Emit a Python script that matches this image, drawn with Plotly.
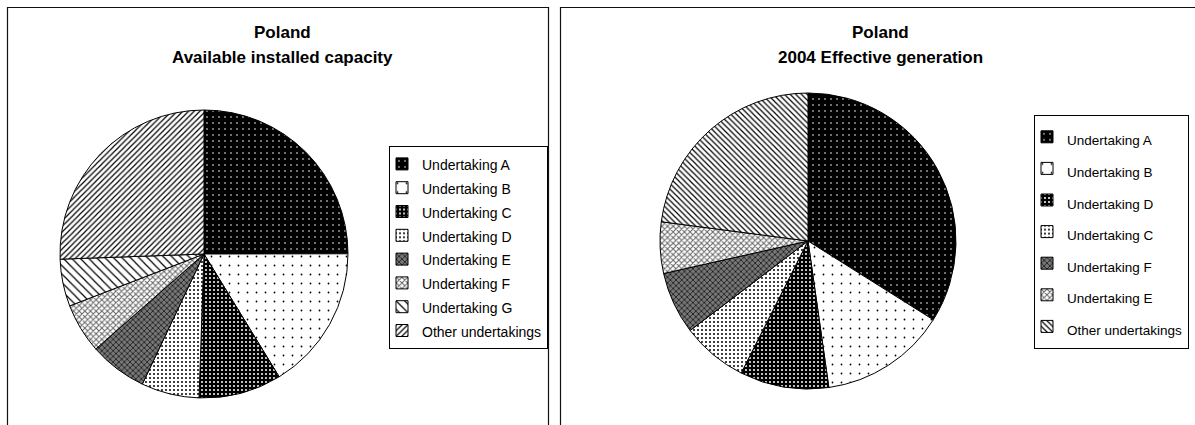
import plotly.graph_objects as go

W, H = 1195, 425

# Left chart: Available installed capacity (shares, %)
cap_labels = ["Undertaking A", "Undertaking B", "Undertaking C", "Undertaking D",
              "Undertaking E", "Undertaking F", "Undertaking G", "Other undertakings"]
cap_values = [25.0, 16.3, 9.3, 6.5, 6.5, 5.6, 5.3, 25.6]

# Right chart: 2004 Effective generation (shares, %)
gen_labels = ["Undertaking A", "Undertaking B", "Undertaking D", "Undertaking C",
              "Undertaking F", "Undertaking E", "Other undertakings"]
gen_values = [33.9, 13.8, 9.7, 7.2, 6.8, 5.6, 22.9]

titles_left = ["Poland", "Available installed capacity"]
titles_right = ["Poland", "2004 Effective generation"]

# fill patterns, in slice order
P_DOT_DARK = dict(shape=".", bgcolor="#000000", fgcolor="#ffffff", size=6, solidity=0.06)
P_DOT_LIGHT = dict(shape=".", bgcolor="#ffffff", fgcolor="#000000", size=9, solidity=0.03)
P_DENSE_DARK = dict(shape=".", bgcolor="#000000", fgcolor="#ffffff", size=4, solidity=0.2)
P_DENSE_LIGHT = dict(shape=".", bgcolor="#ffffff", fgcolor="#000000", size=4, solidity=0.2)
P_X_DARK = dict(shape="x", bgcolor="#777777", fgcolor="#000000", size=4, solidity=0.3)
P_X_LIGHT = dict(shape="x", bgcolor="#ffffff", fgcolor="#666666", size=4, solidity=0.45)
P_BACK_WIDE = dict(shape="\\", bgcolor="#ffffff", fgcolor="#000000", size=6, solidity=0.2)
P_FWD_DENSE = dict(shape="/", bgcolor="#ffffff", fgcolor="#000000", size=4, solidity=0.3)
P_BACK_DENSE = dict(shape="\\", bgcolor="#ffffff", fgcolor="#000000", size=4, solidity=0.3)

left_patterns = [P_DOT_DARK, P_DOT_LIGHT, P_DENSE_DARK, P_DENSE_LIGHT,
                 P_X_DARK, P_X_LIGHT, P_BACK_WIDE, P_FWD_DENSE]
right_patterns = [P_DOT_DARK, P_DOT_LIGHT, P_DENSE_DARK, P_DENSE_LIGHT,
                  P_X_DARK, P_X_LIGHT, P_BACK_DENSE]


def pattern(pats):
    return dict(shape=[p["shape"] for p in pats], bgcolor=[p["bgcolor"] for p in pats],
                fgcolor=[p["fgcolor"] for p in pats], size=[p["size"] for p in pats],
                solidity=[p["solidity"] for p in pats], fillmode="replace")


def px_x(v):
    return v / W


def px_y(v):
    return 1 - v / H


def legend_text(labels, fs):
    return ['<span style="font-size:%spx">%s</span>' % (fs, l) for l in labels]


FONT = "Liberation Sans, Arial, sans-serif"

fig = go.Figure()

# left pie: center (204, 254), r 144
fig.add_trace(go.Pie(
    labels=legend_text(cap_labels, 14), values=cap_values, sort=False, direction="clockwise",
    rotation=0, textinfo="none", hoverinfo="label+percent",
    marker=dict(colors=[p["bgcolor"] for p in left_patterns],
                line=dict(color="#000000", width=1),
                pattern=pattern(left_patterns)),
    domain=dict(x=[px_x(60), px_x(348)], y=[px_y(398), px_y(110)]),
    legend="legend", legendgroup="cap",
))

# right pie: center (808, 241), r 148
fig.add_trace(go.Pie(
    labels=legend_text(gen_labels, 13.5), values=gen_values, sort=False, direction="clockwise",
    rotation=0, textinfo="none", hoverinfo="label+percent",
    marker=dict(colors=[p["bgcolor"] for p in right_patterns],
                line=dict(color="#000000", width=1),
                pattern=pattern(right_patterns)),
    domain=dict(x=[px_x(660), px_x(956)], y=[px_y(389), px_y(93)]),
    legend="legend2", legendgroup="gen",
))


def title_ann(text, x, y):
    return dict(text="<b>%s</b>" % text, x=px_x(x), y=px_y(y), xref="paper", yref="paper",
                xanchor="center", yanchor="middle", showarrow=False,
                font=dict(family=FONT, size=17, color="#000000"))


fig.update_layout(
    width=W, height=H,
    margin=dict(l=0, r=0, t=0, b=0),
    paper_bgcolor="#ffffff", plot_bgcolor="#ffffff",
    font=dict(family=FONT, size=12, color="#000000"),
    showlegend=True,
    legend=dict(x=px_x(389), y=px_y(146), xanchor="left", yanchor="top",
                bordercolor="#000000", borderwidth=1, bgcolor="#ffffff", indentation=-8,
                font=dict(family=FONT, size=16, color="#000000"),
                itemclick=False, itemdoubleclick=False),
    legend2=dict(x=px_x(1034), y=px_y(115), xanchor="left", yanchor="top",
                 bordercolor="#000000", borderwidth=1, bgcolor="#ffffff", indentation=-8,
                 font=dict(family=FONT, size=22, color="#000000"),
                 itemclick=False, itemdoubleclick=False),
    shapes=[
        dict(type="rect", xref="paper", yref="paper", x0=px_x(7.5), x1=px_x(548.5),
             y0=px_y(440), y1=px_y(7.5), line=dict(color="#111111", width=1.2)),
        dict(type="rect", xref="paper", yref="paper", x0=px_x(560.5), x1=px_x(1215),
             y0=px_y(440), y1=px_y(7.5), line=dict(color="#111111", width=1.2)),
    ],
    annotations=[
        title_ann(titles_left[0], 282, 32), title_ann(titles_left[1], 282, 57),
        title_ann(titles_right[0], 880, 32), title_ann(titles_right[1], 880, 57),
    ],
)

fig.write_html("out.html", config={"displayModeBar": False},
               post_script="document.body.style.margin='0';")
